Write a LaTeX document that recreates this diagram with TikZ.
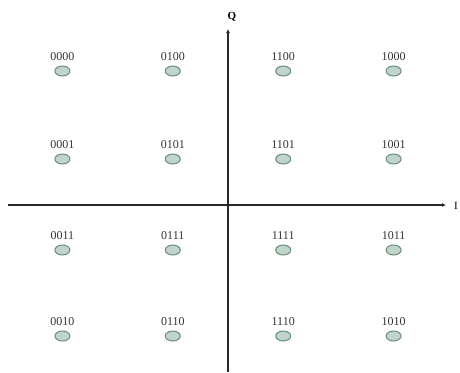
\documentclass[tikz,border=0pt]{standalone}
\usepackage{fontspec}
\setmainfont{Liberation Serif}
\usetikzlibrary{arrows.meta,positioning,shapes.geometric}
\definecolor{dotfill}{RGB}{192,212,202}
\definecolor{dotedge}{RGB}{105,138,126}
\definecolor{axisgray}{RGB}{40,40,40}

\begin{document}
\begin{tikzpicture}[x=1pt,y=-1pt,>={Latex[length=4pt,width=4pt]},
  symb/.style={ellipse,draw=dotedge,fill=dotfill,line width=1pt,minimum width=15pt,minimum height=10pt,inner sep=0pt},
  bits/.style={font=\fontsize{12}{13}\selectfont,inner sep=0pt,text=black!80}]
\useasboundingbox (0,0) rectangle (460,372);
% axes
\coordinate (qbot) at (228,372);
\node[font=\bfseries\fontsize{11}{12}\selectfont] (Q) at (232,17) {Q};
\coordinate (qtop) at (228,29);
\draw[axisgray,line width=1.8pt,->] (qbot)--(qtop);
\coordinate (ileft) at (8,205);
\coordinate (iright) at (446,205);
\node[font=\fontsize{11}{12}\selectfont] (I) at (456,206) {I};
\draw[axisgray,line width=1.8pt,->] (ileft)--(iright);
% constellation points
\foreach \yy/\row in {71/{0000,0100,1100,1000},159/{0001,0101,1101,1001},250/{0011,0111,1111,1011},336/{0010,0110,1110,1010}}{
  \foreach \lab [count=\i] in \row {
    \pgfmathsetmacro{\xx}{-48+110.4*\i}
    \node[symb] (d\lab) at (\xx,\yy) {};
    \node[bits,above=5pt of d\lab] (t\lab) {\lab};
  }
}
\end{tikzpicture}
\end{document}
